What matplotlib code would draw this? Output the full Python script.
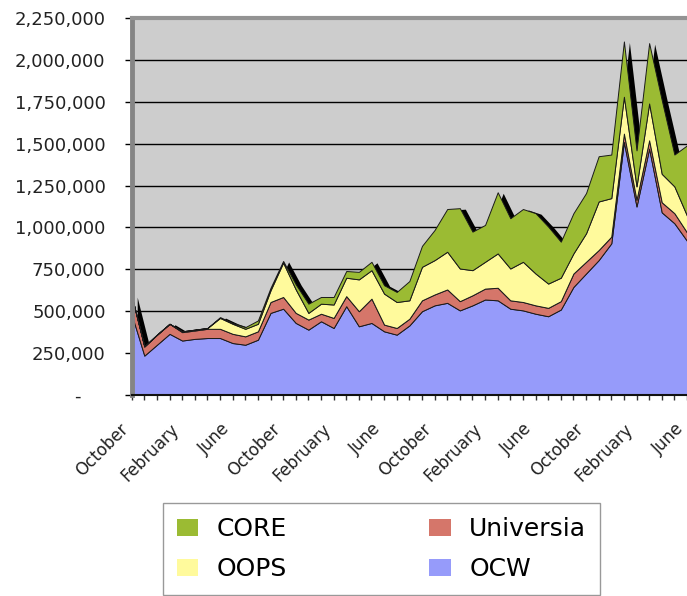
import matplotlib
matplotlib.use("Agg")
import matplotlib.pyplot as plt
from matplotlib.patches import Patch
from matplotlib.transforms import ScaledTranslation
import numpy as np

# monthly visits, October of year 1 to June of year 4
month_labels = ["October", "February", "June"] * 4

ocw = [480, 235, 300, 365, 325, 335, 340, 340, 310, 300, 330, 490, 515, 430, 390,
       440, 400, 530, 410, 430, 380, 360, 415, 500, 535, 550, 505, 535, 570, 565,
       515, 505, 485, 470, 510, 645, 725, 805, 905, 1510, 1125, 1470, 1090, 1025, 920]
universia = [110, 55, 60, 60, 50, 50, 55, 55, 55, 50, 50, 65, 70, 60, 60,
             45, 60, 60, 90, 145, 40, 40, 40, 65, 65, 80, 55, 60, 65, 75,
             50, 50, 50, 50, 50, 80, 70, 60, 40, 50, 40, 50, 60, 60, 50]
oops = [0, 0, 0, 0, 5, 5, 5, 65, 60, 45, 45, 70, 205, 140, 40,
        60, 80, 110, 190, 170, 185, 155, 110, 200, 205, 225, 195, 150, 160, 205,
        190, 240, 190, 145, 140, 120, 170, 290, 230, 220, 80, 220, 170, 160, 100]
core = [0, 0, 0, 0, 0, 0, 0, 5, 5, 10, 20, 15, 10, 30, 55,
        40, 45, 40, 45, 50, 50, 60, 115, 125, 180, 255, 360, 230, 220, 365,
        300, 315, 360, 340, 215, 240, 240, 270, 260, 330, 215, 360, 440, 190, 420]

series = [np.array(s) * 1000 for s in (ocw, universia, oops, core)]
names = ["OCW", "Universia", "OOPS", "CORE"]
colors = ["#969BFA", "#D5766A", "#FFFA9C", "#9BBB33"]

x = np.arange(len(ocw))
total = sum(series)

fig = plt.figure(figsize=(6.87, 5.96), dpi=100)
ax = fig.add_axes([131.7 / 687, 201 / 596, (687 - 131.7) / 687, 377 / 596])
ax.set_facecolor("#CDCDCD")

# dark "depth" shadow behind the stack
shadow = ax.transData + ScaledTranslation(5.5 / 100, -1 / 100, fig.dpi_scale_trans)
ax.fill_between(x, 0, total, color="black", transform=shadow, zorder=1.5, linewidth=0)

ax.stackplot(x, *series, colors=colors, edgecolor="#1a1a1a", linewidth=0.7, zorder=2)

ax.set_xlim(0, len(x) - 1)
ax.set_ylim(0, 2250000)

yt = np.arange(0, 2250001, 250000)
ax.set_yticks(yt)
ax.set_yticklabels(["-"] + [f"{v:,}" for v in yt[1:]], fontsize=13, color="#222222")
ax.tick_params(axis="y", length=4.8, width=1, color="black", pad=14)
ax.yaxis.grid(True, color="black", linewidth=1)
ax.set_axisbelow(True)
zero_lbl = ax.get_yticklabels()[0]
zero_lbl.set_transform(zero_lbl.get_transform() + ScaledTranslation(-25 / 100, 0, fig.dpi_scale_trans))

ax.set_xticks(x)
ax.set_xticklabels([month_labels[i // 4] if i % 4 == 0 else "" for i in x], fontsize=12,
                   color="#222222")
ax.tick_params(axis="x", length=3.6, width=1, color="#333333", pad=19)
for lbl in ax.get_xticklabels():
    lbl.set_rotation(45)
    lbl.set_ha("right")
    lbl.set_va("center")
    lbl.set_rotation_mode("anchor")
    lbl.set_transform(lbl.get_transform() + ScaledTranslation(-6 / 100, 0, fig.dpi_scale_trans))

ax.spines["right"].set_visible(False)
ax.spines["left"].set_color("#858585")
ax.spines["left"].set_linewidth(3.5)
ax.spines["top"].set_color("#939393")
ax.spines["top"].set_linewidth(3)
ax.spines["bottom"].set_color("#111111")
ax.spines["bottom"].set_linewidth(1.5)

handles = [Patch(facecolor=colors[i], edgecolor="none", label=names[i]) for i in (3, 2, 1, 0)]
leg = fig.legend(handles=handles, ncol=2, loc="lower left",
                 bbox_to_anchor=(163 / 687, 1 / 596, 437 / 687, 92 / 596), mode="expand",
                 fontsize=18, frameon=True, fancybox=False, edgecolor="#808080",
                 borderaxespad=0, handlelength=0.85, handleheight=0.7, handletextpad=0.75,
                 labelspacing=0.65, borderpad=0.55)
leg.get_frame().set_linewidth(1)

fig.savefig("out.png", dpi=100)
